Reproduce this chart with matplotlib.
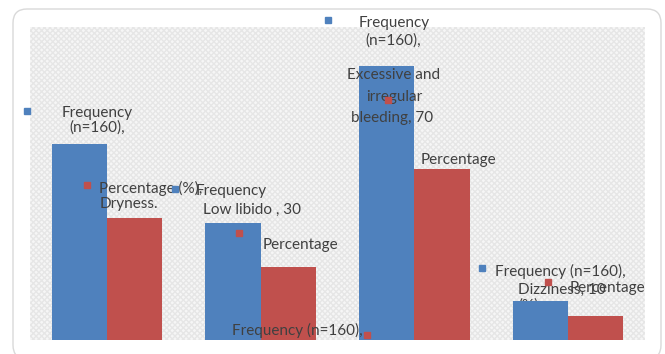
import matplotlib
matplotlib.use("Agg")
import matplotlib.pyplot as plt
from matplotlib.patches import FancyBboxPatch
from matplotlib.transforms import Affine2D

W, H = 665, 354

symptoms = ["Dryness", "Low libido", "Excessive and irregular bleeding", "Dizziness"]
frequency = [50, 30, 70, 10]
n_total = 160
percentage = [f / n_total * 100 for f in frequency]

BLUE = "#4F81BD"
RED = "#C0504D"
TEXT = "#404040"

plt.rcParams["font.family"] = ["Lato", "DejaVu Sans"]

fig = plt.figure(figsize=(W / 100, H / 100), dpi=100)
fig.patch.set_facecolor("white")

# pixel coordinates measured from the top-left corner
px = Affine2D().scale(1 / W, -1 / H).translate(0, 1) + fig.transFigure

frame = FancyBboxPatch(
    (13, 9), 648, 350,
    boxstyle="round,pad=0,rounding_size=14",
    transform=px, facecolor="white", edgecolor="#d9d9d9",
    linewidth=1.0, zorder=-5,
)
fig.patches.append(frame)

ax = fig.add_axes([30 / W, (H - 340) / H, 615 / W, 313 / H])
ax.set_zorder(1)
ax.set_facecolor("#f6f6f6")
ax.patch.set_hatch("xxxxxx")
ax.patch.set_edgecolor("#e6e6e6")
ax.patch.set_linewidth(0)
for s in ax.spines.values():
    s.set_visible(False)

x = list(range(len(symptoms)))
bw = 0.36
ax.bar([i - bw / 2 for i in x], frequency, width=bw, color=BLUE, zorder=3)
ax.bar([i + bw / 2 for i in x], percentage, width=bw, color=RED, zorder=3)
ax.set_xlim(-0.5, 3.5)
ax.set_ylim(0, 80)
ax.set_xticks([])
ax.set_yticks([])


def label(xp, yp, s, z=5, ha="center"):
    ax.text(xp, yp, s, transform=px, ha=ha, va="center", fontsize=11,
            color=TEXT, zorder=z, clip_on=False, linespacing=1.25)


def key(xp, yp, color, size=5):
    ax.plot([xp], [yp], marker="s", markersize=size, color=color,
            transform=px, clip_on=False, zorder=6, linestyle="none")


# Dryness
key(27, 111, BLUE)
label(97, 113, "Frequency")
label(97, 128, "(n=160),")
key(87, 185, RED)
label(99, 188, "Percentage (%),", ha="left")
label(129, 204, f"{symptoms[0]}.")

# Low libido
key(175, 189, BLUE)
label(196, 191, "Frequency", ha="left")
label(252, 210, f"{symptoms[1]} , {frequency[1]}")
key(239, 233, RED)
label(263, 245, "Percentage", ha="left")
label(232, 330, "Frequency (n=160),", ha="left")
key(367, 335, RED)

# Excessive and irregular bleeding
key(328, 20, BLUE)
label(394, 23, "Frequency")
label(393, 41, "(n=160),")
label(394, 75, "Excessive and")
label(394, 97, "irregular")
label(392, 118, f"bleeding, {frequency[2]}")
key(388, 100, RED)
label(421, 160, "Percentage", ha="left", z=2)

# Dizziness
key(482, 268, BLUE)
label(495, 271, "Frequency (n=160),", ha="left")
label(518, 290, f"{symptoms[3]}, {frequency[3]}", ha="left")
key(548, 282, RED)
label(570, 288, "Percentage", ha="left")
label(518, 306, "(%)", ha="left", z=2)

fig.savefig("out.png", dpi=100)
